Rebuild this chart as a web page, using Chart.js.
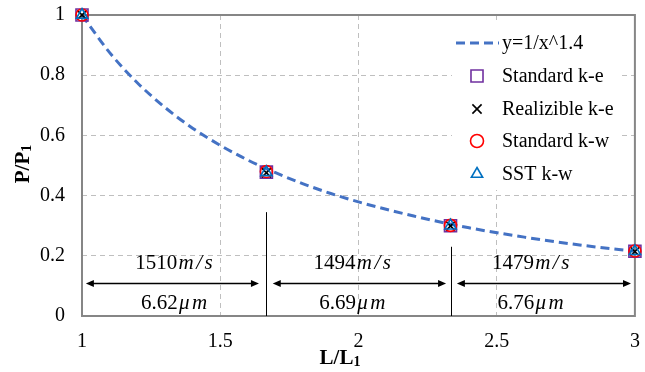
<!DOCTYPE html>
<html>
<head>
<meta charset="utf-8">
<script src="https://cdn.jsdelivr.net/npm/chart.js@4"></script>
<style>
  html, body { margin: 0; padding: 0; background: #fff; }
  #wrap { width: 645px; height: 372px; }
</style>
</head>
<body>
<div id="wrap"><canvas id="pressureChart" width="645" height="372"></canvas></div>
<script>
  // reference curve y=1/x^1.4
  const curveX = [1, 1.1, 1.2, 1.3, 1.4, 1.5, 1.6, 1.7, 1.8, 1.9, 2, 2.2, 2.4, 2.6, 2.8, 3];
  const curveY = [1, 0.875, 0.775, 0.693, 0.624, 0.567, 0.518, 0.476, 0.439, 0.407, 0.379, 0.332, 0.293, 0.262, 0.236, 0.215];

  // simulation results
  const ratioL = [1, 1.667, 2.333, 3];
  const stdKe = [1, 0.478, 0.300, 0.215];
  const realKe = [1, 0.476, 0.299, 0.214];
  const stdKw = [1, 0.480, 0.301, 0.216];
  const sstKw = [1, 0.477, 0.300, 0.215];

  // annotations per segment
  const speeds = ['1510', '1494', '1479'];
  const widths = ['6.62', '6.69', '6.76'];
  const labelX = [1.335, 1.98, 2.625];
  const arrowFrom = [1.014, 1.69, 2.356];
  const arrowTo = [1.64, 2.317, 2.986];
  const dividerX = [1.665, 2.336];
  const dividerTop = [0.345, 0.23];

  const serif = '"Liberation Serif", "Times New Roman", Tinos, "DejaVu Serif", serif';

  function pts(xs, ys) {
    return xs.map((x, i) => ({ x: x, y: ys[i] }));
  }

  const legendItems = [
    { label: 'y=1/x^1.4', kind: 'line', color: '#4472C4' },
    { label: 'Standard k-e', kind: 'rect', color: '#7030A0' },
    { label: 'Realizible k-e', kind: 'crossRot', color: '#000000' },
    { label: 'Standard k-w', kind: 'circle', color: '#FF0000' },
    { label: 'SST k-w', kind: 'triangle', color: '#0070C0' }
  ];

  function arrowHead(ctx, x, y, dir) {
    ctx.beginPath();
    ctx.moveTo(x, y);
    ctx.lineTo(x - dir * 8, y - 3.5);
    ctx.lineTo(x - dir * 8, y + 3.5);
    ctx.closePath();
    ctx.fill();
  }

  // upright number followed by a wider italic unit
  function mixedText(ctx, plain, ital, cx, cy) {
    const gap = 2.5;
    ctx.font = '21px ' + serif;
    const w1 = ctx.measureText(plain).width;
    ctx.font = 'italic 21px ' + serif;
    const chars = ital.split('');
    const cw = chars.map(c => ctx.measureText(c).width);
    const w2 = cw.reduce((s, w) => s + w, 0) + gap * chars.length;
    let x = cx - (w1 + w2) / 2;
    ctx.textAlign = 'left';
    ctx.textBaseline = 'middle';
    ctx.font = '21px ' + serif;
    ctx.fillText(plain, x, cy);
    x += w1 + gap / 2;
    ctx.font = 'italic 21px ' + serif;
    chars.forEach((c, i) => {
      ctx.fillText(c, x, cy);
      x += cw[i] + gap;
    });
  }

  function subTitle(ctx, main, sub, x, y) {
    ctx.font = 'bold 21px ' + serif;
    const w1 = ctx.measureText(main).width;
    ctx.font = 'bold 14px ' + serif;
    const w2 = ctx.measureText(sub).width;
    const start = x - (w1 + w2) / 2;
    ctx.textAlign = 'left';
    ctx.textBaseline = 'alphabetic';
    ctx.font = 'bold 21px ' + serif;
    ctx.fillText(main, start, y);
    ctx.font = 'bold 14px ' + serif;
    ctx.fillText(sub, start + w1, y + 2);
  }

  const framePlugin = {
    id: 'frame',
    beforeDatasetsDraw(chart) {
      const ctx = chart.ctx;
      const a = chart.chartArea;
      ctx.save();
      ctx.strokeStyle = '#868686';
      ctx.lineWidth = 2;
      ctx.strokeRect(a.left, a.top, a.right - a.left, a.bottom - a.top);
      ctx.restore();
    },
    afterDraw(chart) {
      const ctx = chart.ctx;
      const xs = chart.scales.x;
      const ys = chart.scales.y;
      ctx.save();
      ctx.fillStyle = '#000';
      ctx.strokeStyle = '#000';

      // divider lines between segments
      ctx.lineWidth = 1;
      dividerX.forEach((d, i) => {
        const px = Math.round(xs.getPixelForValue(d)) + 0.5;
        ctx.beginPath();
        ctx.moveTo(px, ys.getPixelForValue(dividerTop[i]));
        ctx.lineTo(px, ys.getPixelForValue(0));
        ctx.stroke();
      });

      // double arrows and labels
      const ay = Math.round(ys.getPixelForValue(0.11)) + 0.5;
      ctx.lineWidth = 1.3;
      arrowFrom.forEach((f, i) => {
        const x1 = xs.getPixelForValue(f);
        const x2 = xs.getPixelForValue(arrowTo[i]);
        ctx.beginPath();
        ctx.moveTo(x1 + 4, ay);
        ctx.lineTo(x2 - 4, ay);
        ctx.stroke();
        arrowHead(ctx, x1, ay, -1);
        arrowHead(ctx, x2, ay, 1);
        mixedText(ctx, speeds[i], 'm/s', xs.getPixelForValue(labelX[i]), ys.getPixelForValue(0.176));
        mixedText(ctx, widths[i], '\u03BCm', xs.getPixelForValue(labelX[i]), ys.getPixelForValue(0.043));
      });

      // axis titles
      subTitle(ctx, 'L/L', '1', 340, 364);
      ctx.save();
      ctx.translate(29, 164);
      ctx.rotate(-Math.PI / 2);
      subTitle(ctx, 'P/P', '1', 0, 0);
      ctx.restore();

      // legend box
      ctx.fillStyle = '#fff';
      ctx.fillRect(452, 24, 170, 166);
      const rowY = [43, 76, 109, 141, 174];
      legendItems.forEach((item, i) => {
        const y = rowY[i];
        if (item.kind === 'line') {
          ctx.strokeStyle = item.color;
          ctx.lineWidth = 3;
          ctx.setLineDash([9, 5]);
          ctx.beginPath();
          ctx.moveTo(456, y);
          ctx.lineTo(499, y);
          ctx.stroke();
          ctx.setLineDash([]);
        } else {
          ctx.lineWidth = 1.6;
          ctx.strokeStyle = item.color;
          ctx.fillStyle = 'rgba(0,0,0,0)';
          Chart.helpers.drawPoint(ctx, { pointStyle: item.kind, radius: item.kind === 'rect' ? 8.5 : 6.5, borderWidth: 1.6 }, 477, y);
        }
        ctx.fillStyle = '#000';
        ctx.font = '20px ' + serif;
        ctx.textAlign = 'left';
        ctx.textBaseline = 'middle';
        ctx.fillText(item.label, 502, y + 1);
      });
      ctx.restore();
    }
  };

  const markerBase = { showLine: false, clip: false, pointBorderWidth: 1.6, pointBackgroundColor: 'rgba(0,0,0,0)' };

  function tickText(v) {
    return String(Math.round(v * 100) / 100);
  }

  function noEdgePadding(scale) {
    scale.paddingLeft = 0;
    scale.paddingRight = 0;
    scale.paddingTop = 0;
    scale.paddingBottom = 0;
  }

  function buildChart() {
    new Chart(document.getElementById('pressureChart').getContext('2d'), {
      type: 'scatter',
      data: {
        datasets: [
          {
            label: 'y=1/x^1.4',
            data: pts(curveX, curveY),
            showLine: true,
            borderColor: '#4472C4',
            borderWidth: 3,
            borderDash: [9, 5],
            cubicInterpolationMode: 'monotone',
            pointRadius: 0,
            order: 5
          },
          Object.assign({ label: 'Standard k-e', data: pts(ratioL, stdKe), pointStyle: 'rect', pointRadius: 8.5, pointBorderColor: '#7030A0', order: 4 }, markerBase),
          Object.assign({ label: 'Realizible k-e', data: pts(ratioL, realKe), pointStyle: 'crossRot', pointRadius: 6.5, pointBorderColor: '#000000', order: 3 }, markerBase),
          Object.assign({ label: 'Standard k-w', data: pts(ratioL, stdKw), pointStyle: 'circle', pointRadius: 6, pointBorderColor: '#FF0000', order: 2 }, markerBase),
          Object.assign({ label: 'SST k-w', data: pts(ratioL, sstKw), pointStyle: 'triangle', pointRadius: 6.5, pointBorderColor: '#0070C0', order: 1 }, markerBase)
        ]
      },
      options: {
        responsive: false,
        animation: false,
        layout: { padding: { left: 0, right: 8, top: 15, bottom: 0 } },
        plugins: { legend: { display: false }, tooltip: { enabled: false } },
        scales: {
          x: {
            type: 'linear',
            min: 1,
            max: 3,
            afterFit(scale) { scale.height = 56; noEdgePadding(scale); },
            ticks: { stepSize: 0.5, padding: 14, color: '#000', font: { family: serif, size: 20 }, callback: tickText },
            grid: { color: '#BFBFBF', lineWidth: 1, drawTicks: false },
            border: { display: false, dash: [5, 4] }
          },
          y: {
            min: 0,
            max: 1,
            afterFit(scale) { scale.width = 82; noEdgePadding(scale); },
            ticks: { stepSize: 0.2, padding: 17, color: '#000', font: { family: serif, size: 20 }, callback: tickText },
            grid: { color: '#BFBFBF', lineWidth: 1, drawTicks: false },
            border: { display: false, dash: [5, 4] }
          }
        }
      },
      plugins: [framePlugin]
    });
  }

  const fontLoads = [
    '20px "Liberation Serif"', 'italic 21px "Liberation Serif"', 'bold 21px "Liberation Serif"'
  ].map(f => document.fonts.load(f).catch(() => null));
  Promise.all(fontLoads).then(buildChart, buildChart);
</script>
</body>
</html>
